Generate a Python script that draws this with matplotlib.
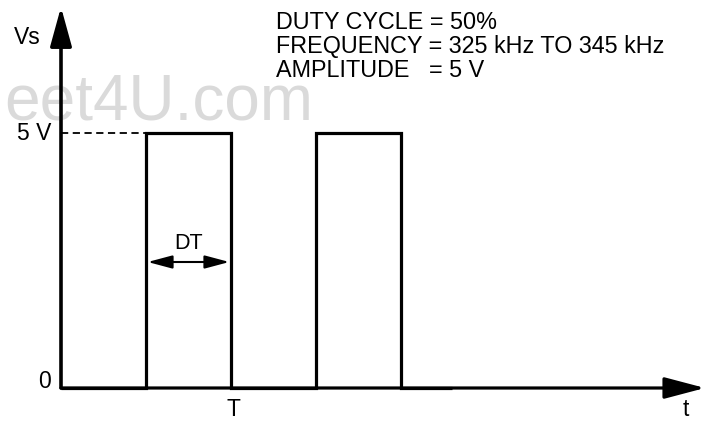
#!/usr/bin/env python3
"""Square-wave drive signal Vs(t): 50% duty cycle, 5 V amplitude."""

import matplotlib
matplotlib.use('Agg')
import matplotlib.pyplot as plt

# Waveform (time in units of half a period, volts)
times = [0, 1, 1, 2, 2, 3, 3, 4, 4, 4.6]
volts = [0, 0, 5, 5, 0, 0, 5, 5, 0, 0]

# Axis tick labels
ytick_vals = [0, 5]
ytick_labels = ['0', '5 V']
xtick_vals = [2]
xtick_labels = ['T']

notes = ['DUTY CYCLE = 50%',
         'FREQUENCY = 325 kHz TO 345 kHz',
         'AMPLITUDE   = 5 V']

plt.rcParams['font.family'] = ['Liberation Sans', 'DejaVu Sans']

W, H = 713, 422
fig = plt.figure(figsize=(W/100, H/100), dpi=100)
ax = fig.add_axes([0, 0, 1, 1])
ax.set_axis_off()

# map pixels: x_px = 61 + 85*t ; y_px = 388 - 51*v
x0, sx = 61, 85.0
y0, sy = 388, 51.0
ax.set_xlim(-x0/sx, (W - x0)/sx)
ax.set_ylim(-(H - y0)/sy, y0/sy)

lw = 2.3
# the waveform itself
ax.plot(times, volts, color='black', lw=lw, solid_joinstyle='miter',
        solid_capstyle='butt', zorder=3)

# axes with arrowheads
xend = (705 - x0)/sx
yend = (y0 - 7)/sy
ax.annotate('', xy=(xend, 0), xytext=(0, 0),
            arrowprops=dict(arrowstyle='-|>,head_length=1.25,head_width=0.33',
                            mutation_scale=20, lw=lw, color='black',
                            shrinkA=0, shrinkB=0))
ax.annotate('', xy=(0, yend), xytext=(0, 0),
            arrowprops=dict(arrowstyle='-|>,head_length=1.2,head_width=0.33',
                            mutation_scale=20, lw=2.6, color='black',
                            shrinkA=0, shrinkB=0))

# dashed 5 V level
ax.plot([0, 1], [5, 5], color='black', lw=1.3, ls=(0, (4, 2.5)))

# DT dimension arrow
dt_v = (y0 - 262)/sy
ax.annotate('', xy=(1.02, dt_v), xytext=(1.98, dt_v),
            arrowprops=dict(arrowstyle='<|-|>,head_length=0.75,head_width=0.2',
                            mutation_scale=20, lw=1.5, color='black',
                            shrinkA=0, shrinkB=0))
ax.text(1.5, (y0 - 244)/sy, 'DT', fontsize=15.5, ha='center', va='center')

fs = 16.5
for v, lab in zip(ytick_vals, ytick_labels):
    ax.text((51 - x0)/sx, v + (7/sy if v == 0 else -1/sy), lab, fontsize=fs,
            ha='right', va='center')
for t, lab in zip(xtick_vals, xtick_labels):
    ax.text(t + 2/sx, -(409 - y0)/sy, lab, fontsize=fs, ha='center', va='center')
ax.text((27 - x0)/sx, (y0 - 38)/sy, 'Vs', fontsize=fs, ha='center', va='center')
ax.text((686 - x0)/sx, -(410 - y0)/sy, 't', fontsize=fs, ha='center', va='center')

# specification notes
ax.text((276 - x0)/sx, (y0 - 11)/sy, '\n'.join(notes), fontsize=16.8,
        ha='left', va='top', linespacing=1.06)

# faint watermark from the scanned source
ax.text((313 - x0)/sx, (y0 - 120)/sy, 'eet4U.com', fontsize=46,
        color='#dadada', ha='right', va='baseline', zorder=0)

fig.savefig('out.png', dpi=100)
